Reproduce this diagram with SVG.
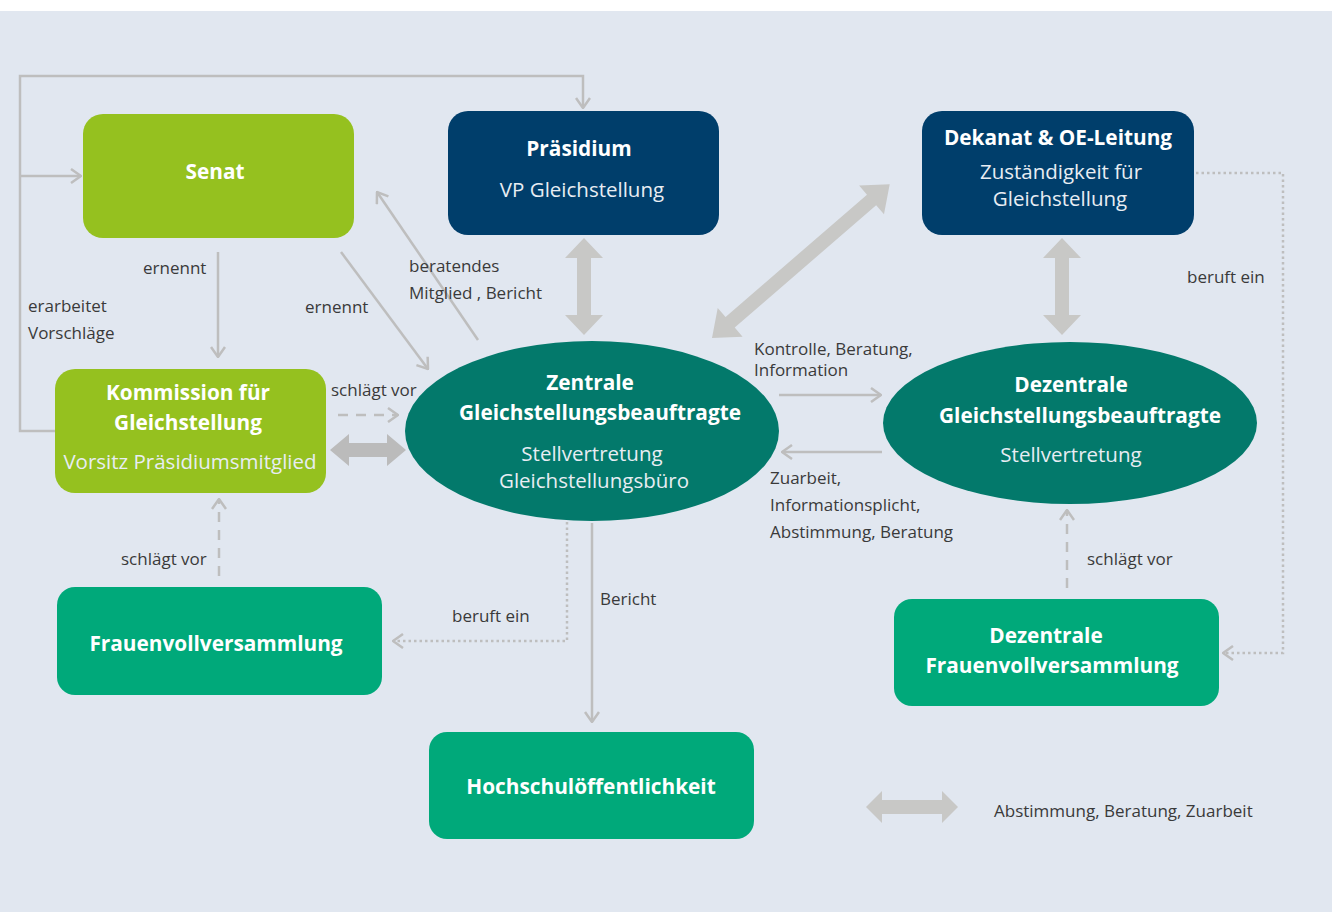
<svg xmlns="http://www.w3.org/2000/svg" width="1332" height="912" viewBox="0 0 1332 912">
<defs>
<style>
.bg{fill:#E1E7F0}
.lime{fill:#95C11F}
.navy{fill:#003E6B}
.teal{fill:#03796B}
.green{fill:#00A97A}
.t{font-family:"Open Sans","Liberation Sans",sans-serif;text-anchor:middle;fill:#FFFFFF}
.tb{font-weight:bold;font-size:20.8px}
.ts{font-size:20.5px;fill:#E8EDF3}
.lb{font-family:"Open Sans","Liberation Sans",sans-serif;font-size:17px;fill:#3A3A3A}
.ln{fill:none;stroke:#BEBEBE;stroke-width:2.5}
.dash{stroke-dasharray:10 8}
.dot{stroke-dasharray:2.5 3}
.big{fill:#C8C8C6}
</style>
<marker id="ah" viewBox="0 0 12 16" refX="11" refY="8" markerWidth="12" markerHeight="16" markerUnits="userSpaceOnUse" orient="auto">
<path d="M1,1 L11,8 L1,15" fill="none" stroke="#BEBEBE" stroke-width="2.5"/>
</marker>
</defs>
<rect x="0" y="0" width="1332" height="912" fill="#FFFFFF"/>
<rect class="bg" x="0" y="11" width="1332" height="901"/>

<g id="connectors">
<polyline class="ln" points="55,431 20,431 20,76 583,76 583,108" marker-end="url(#ah)"/>
<line class="ln" x1="20" y1="176" x2="81" y2="176" marker-end="url(#ah)"/>
<line class="ln" x1="218" y1="252" x2="218" y2="357" marker-end="url(#ah)"/>
<line class="ln" x1="341" y1="252" x2="428" y2="369" marker-end="url(#ah)"/>
<line class="ln" x1="478" y1="340" x2="377" y2="192" marker-end="url(#ah)"/>
<line class="ln dash" x1="338" y1="415" x2="398" y2="415" marker-end="url(#ah)"/>
<line class="ln" x1="779" y1="395" x2="881" y2="395" marker-end="url(#ah)"/>
<line class="ln" x1="882" y1="452" x2="782" y2="452" marker-end="url(#ah)"/>
<line class="ln dash" x1="219" y1="576" x2="219" y2="499" marker-end="url(#ah)"/>
<polyline class="ln dot" points="567,522 567,641 393,641" marker-end="url(#ah)"/>
<line class="ln" x1="592" y1="523" x2="592" y2="722" marker-end="url(#ah)"/>
<line class="ln dash" x1="1067" y1="588" x2="1067" y2="510" marker-end="url(#ah)"/>
<polyline class="ln dot" points="1196,173 1283,173 1283,653 1223,653" marker-end="url(#ah)"/>
<polygon class="big" points="584,238 603,258 591,258 591,315 603,315 584,335 565,315 577,315 577,258 565,258"/>
<polygon class="big" points="1062,238 1081,258 1069,258 1069,315 1081,315 1062,335 1043,315 1055,315 1055,258 1043,258"/>
<g transform="translate(712,338) rotate(-40.87)">
<polygon class="big" points="0,0 24,-19 24,-7 211,-7 211,-19 235,0 211,19 211,7 24,7 24,19"/>
</g>
<polygon fill="#BBBBBB" points="330,450 349,434 349,443 387,443 387,434 406,450 387,466 387,457 349,457 349,466"/>
<polygon class="big" points="866,807 882,791 882,800 942,800 942,791 958,807 942,823 942,814 882,814 882,823"/>
</g>

<g id="labels">
<text class="lb" x="143" y="274">ernennt</text>
<text class="lb" x="305" y="313">ernennt</text>
<text class="lb" x="28" y="312">erarbeitet</text>
<text class="lb" x="28" y="339">Vorschläge</text>
<text class="lb" x="409" y="272">beratendes</text>
<text class="lb" x="409" y="299">Mitglied , Bericht</text>
<text class="lb" x="331" y="396">schlägt vor</text>
<text class="lb" x="754" y="355">Kontrolle, Beratung,</text>
<text class="lb" x="754" y="376">Information</text>
<text class="lb" x="770" y="484">Zuarbeit,</text>
<text class="lb" x="770" y="511">Informationsplicht,</text>
<text class="lb" x="770" y="538">Abstimmung, Beratung</text>
<text class="lb" x="121" y="565">schlägt vor</text>
<text class="lb" x="452" y="622">beruft ein</text>
<text class="lb" x="600" y="605">Bericht</text>
<text class="lb" x="1087" y="565">schlägt vor</text>
<text class="lb" x="1187" y="283">beruft ein</text>
<text class="lb" x="994" y="817">Abstimmung, Beratung, Zuarbeit</text>
</g>

<g id="senat">
<rect class="lime" x="83" y="114" width="271" height="124" rx="20"/>
<text class="t tb" x="215" y="179">Senat</text>
</g>
<g id="praesidium">
<rect class="navy" x="448" y="111" width="271" height="124" rx="20"/>
<text class="t tb" x="579" y="156">Präsidium</text>
<text class="t ts" x="582" y="197">VP Gleichstellung</text>
</g>
<g id="dekanat">
<rect class="navy" x="922" y="111" width="272" height="124" rx="20"/>
<text class="t tb" x="1058" y="145">Dekanat &amp; OE-Leitung</text>
<text class="t ts" x="1061" y="179">Zuständigkeit für</text>
<text class="t ts" x="1060" y="206">Gleichstellung</text>
</g>
<g id="kommission">
<rect class="lime" x="55" y="369" width="271" height="124" rx="20"/>
<text class="t tb" x="188" y="400">Kommission für</text>
<text class="t tb" x="188" y="430">Gleichstellung</text>
<text class="t ts" x="190" y="469">Vorsitz Präsidiumsmitglied</text>
</g>
<g id="zentrale">
<ellipse class="teal" cx="592" cy="431" rx="187" ry="90"/>
<text class="t tb" x="590" y="390">Zentrale</text>
<text class="t tb" x="600" y="420">Gleichstellungsbeauftragte</text>
<text class="t ts" x="592" y="461">Stellvertretung</text>
<text class="t ts" x="594" y="488">Gleichstellungsbüro</text>
</g>
<g id="dezentrale">
<ellipse class="teal" cx="1070" cy="423" rx="187" ry="81"/>
<text class="t tb" x="1071" y="392">Dezentrale</text>
<text class="t tb" x="1080" y="423">Gleichstellungsbeauftragte</text>
<text class="t ts" x="1071" y="462">Stellvertretung</text>
</g>
<g id="frauenvollversammlung">
<rect class="green" x="57" y="587" width="325" height="108" rx="18"/>
<text class="t tb" x="216" y="651">Frauenvollversammlung</text>
</g>
<g id="hochschuloeffentlichkeit">
<rect class="green" x="429" y="732" width="325" height="107" rx="18"/>
<text class="t tb" x="591" y="794">Hochschulöffentlichkeit</text>
</g>
<g id="dezentrale-frauenvollversammlung">
<rect class="green" x="894" y="599" width="325" height="107" rx="18"/>
<text class="t tb" x="1046" y="643">Dezentrale</text>
<text class="t tb" x="1052" y="673">Frauenvollversammlung</text>
</g>
</svg>
